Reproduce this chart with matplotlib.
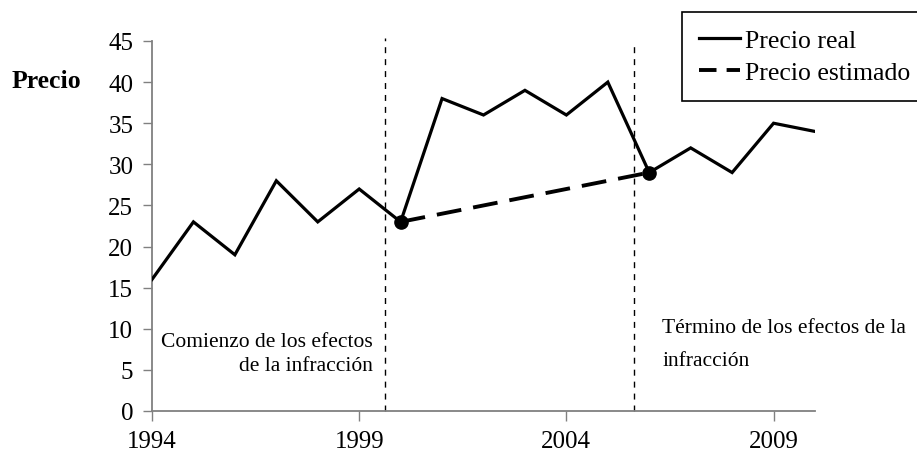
import matplotlib
matplotlib.use("Agg")
import matplotlib.pyplot as plt
from matplotlib.lines import Line2D

years = list(range(1994, 2011))
precio_real = [16, 23, 19, 28, 23, 27, 23, 38, 36, 39, 36, 40, 29, 32, 29, 35, 34]
est_years = [2000, 2001, 2002, 2003, 2004, 2005, 2006]
precio_estimado = [23, 24, 25, 26, 27, 28, 29]
marker_years = [2000, 2006]
marker_vals = [23, 29]
inicio_linea = 1999.62
fin_linea = 2005.63
xticks = [1994, 1999, 2004, 2009]
yticks = list(range(0, 50, 5))

plt.rcParams['font.family'] = ['Liberation Serif', 'DejaVu Serif']

W, H = 917, 464
fig = plt.figure(figsize=(W / 100, H / 100), dpi=100)
ax = fig.add_axes([152 / W, (H - 412) / H, (815 - 152) / W, (412 - 42) / H])

ax.plot(years, precio_real, color='black', lw=2.3, solid_joinstyle='miter', zorder=3)
ax.plot(est_years, precio_estimado, color='black', lw=2.8, dashes=(6.4, 3.1), zorder=3)
ax.plot(marker_years, marker_vals, 'o', color='black', ms=9.5, zorder=4)

ax.plot([inicio_linea, inicio_linea], [0, 45.4], color='black', lw=1,
        dashes=(4.3, 4.3), clip_on=False, zorder=2)
ax.plot([fin_linea, fin_linea], [0, 44.9], color='black', lw=1,
        dashes=(4.3, 4.3), clip_on=False, zorder=2)

ax.set_xlim(1994, 2010)
ax.set_ylim(0, 45)
ax.set_xticks(xticks)
ax.set_yticks(yticks)
ax.tick_params(axis='both', labelsize=18, width=1, color='#808080',
               direction='out')
ax.tick_params(axis='x', pad=6, length=7.5)
ax.tick_params(axis='y', pad=7, length=6.5)
for s in ['top', 'right']:
    ax.spines[s].set_visible(False)
for s in ['left', 'bottom']:
    ax.spines[s].set_color('#808080')
    ax.spines[s].set_linewidth(1.3)

fig.text(12 / W, 1 - 82 / H, 'Precio', fontsize=18.5, fontweight='bold',
         va='center', ha='left')

ax.text(inicio_linea - 0.29, 8.5, 'Comienzo de los efectos', fontsize=15.5,
        ha='right', va='center')
ax.text(inicio_linea - 0.29, 5.5, 'de la infracción', fontsize=15.5,
        ha='right', va='center')
ax.text(fin_linea + 0.68, 10.2, 'Término de los efectos de la', fontsize=15.5,
        ha='left', va='center')
ax.text(fin_linea + 0.68, 6.1, 'infracción', fontsize=15.5,
        ha='left', va='center')

handles = [Line2D([], [], color='black', lw=2.3),
           Line2D([], [], color='black', lw=2.8, dashes=(4.5, 2.6))]
leg = fig.legend(handles, ['Precio real', 'Precio estimado'],
                 loc='upper left', bbox_to_anchor=(682 / W, 1 - 13 / H),
                 fontsize=18.5, frameon=True, fancybox=False, shadow=False,
                 edgecolor='black', framealpha=1, handlelength=1.6,
                 handletextpad=0.2, borderpad=0.65, labelspacing=0.38,
                 borderaxespad=0)
leg.get_frame().set_linewidth(1.2)

fig.savefig('out.png', dpi=100)
